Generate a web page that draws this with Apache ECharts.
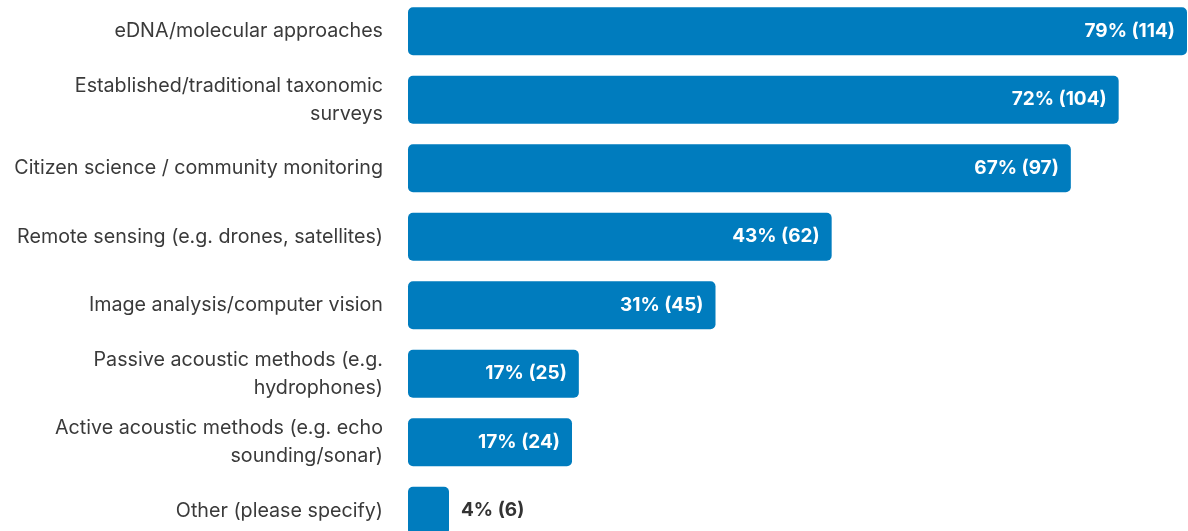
<!DOCTYPE html>
<html>
<head>
<meta charset="utf-8">
<style>
html,body{margin:0;padding:0;background:#fff;}
#chart{width:1188px;height:531px;}
</style>
<script src="https://cdn.jsdelivr.net/npm/echarts@6/dist/echarts.min.js"></script>
</head>
<body>
<div id="chart"></div>
<script>
const categories = [
  "eDNA/molecular approaches",
  "Established/traditional taxonomic\nsurveys",
  "Citizen science / community monitoring",
  "Remote sensing (e.g. drones, satellites)",
  "Image analysis/computer vision",
  "Passive acoustic methods (e.g.\nhydrophones)",
  "Active acoustic methods (e.g. echo\nsounding/sonar)",
  "Other (please specify)"
];
const counts = [114, 104, 97, 62, 45, 25, 24, 6];
const percents = [79, 72, 67, 43, 31, 17, 17, 4];

const chart = echarts.init(document.getElementById('chart'), null, {renderer: 'canvas'});
const FONT = 'Inter, "Noto Sans", sans-serif';
const seriesData = counts.map((v, i) => {
  const item = {value: v};
  if (v < 15) {
    item.label = {position: 'right', color: '#333333', distance: 12};
  }
  return item;
});
chart.setOption({
  animation: false,
  grid: {left: 408, right: 1, top: -3, height: 548, containLabel: false, outerBoundsMode: 'none'},
  xAxis: {type: 'value', min: 0, max: 114, show: false},
  yAxis: {
    type: 'category', inverse: true, data: categories,
    axisLine: {show: false}, axisTick: {show: false},
    axisLabel: {
      margin: 25, fontSize: 19.7, color: '#3a3a3a', fontFamily: FONT,
      lineHeight: 28, align: 'right'
    }
  },
  series: [{
    type: 'bar', data: seriesData, barCategoryGap: '30%',
    itemStyle: {color: '#007CBE', borderRadius: 5},
    label: {
      show: true, position: 'insideRight', distance: 12,
      color: '#ffffff', fontSize: 19, fontWeight: 'bold', fontFamily: FONT,
      formatter: p => percents[p.dataIndex] + '% (' + counts[p.dataIndex] + ')'
    }
  }]
});
</script>
</body>
</html>
